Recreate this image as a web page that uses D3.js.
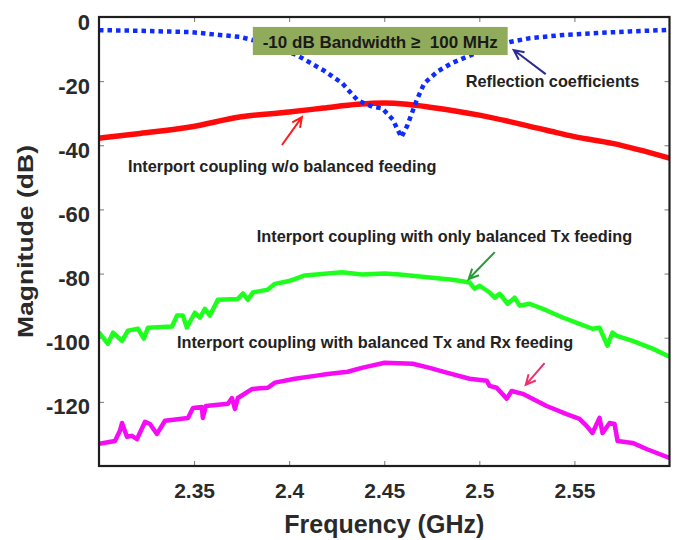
<!DOCTYPE html>
<html>
<head>
<meta charset="utf-8">
<script src="https://cdn.jsdelivr.net/npm/d3@7"></script>
<style>
body { margin: 0; background: #fff; }
text { font-family: "Liberation Sans", Arial, sans-serif; font-weight: bold; }
</style>
</head>
<body>
<div id="chart"></div>
<script>
// ticks
var xTicks = [2.35, 2.4, 2.45, 2.5, 2.55];
var yTicks = [0, -20, -40, -60, -80, -100, -120];

// [GHz, dB]
var reflection = [
    [2.300, -4.1], [2.3215, -4.3], [2.348, -4.7], [2.374, -6.2], [2.390, -8.5],
    [2.404, -11.9], [2.418, -16.6], [2.428, -20.7], [2.436, -26.0], [2.444, -28.0],
    [2.449, -28.5], [2.4545, -32.0], [2.459, -37.5], [2.462, -34.0], [2.467, -26.0],
    [2.471, -20.7], [2.478, -17.0], [2.4855, -14.4], [2.493, -12.5], [2.5055, -9.5],
    [2.516, -7.8], [2.5265, -6.6], [2.544, -5.6], [2.562, -5.0], [2.579, -4.5], [2.600, -4.0]
];

var couplingNoBalance = [
    [2.300, -37.8], [2.3215, -36.3], [2.348, -34.3], [2.374, -31.2], [2.400, -29.6],
    [2.418, -28.4], [2.436, -27.2], [2.450, -26.8], [2.462, -27.2], [2.475, -28.2],
    [2.500, -30.6], [2.5354, -35.3], [2.550, -37.3], [2.570, -39.4], [2.600, -44.0]
];

var couplingTxBalanced = [
    [2.3000, -98.3], [2.3047, -101.9], [2.3074, -98.4], [2.3121, -101.0], [2.3152, -97.8],
    [2.3205, -97.2], [2.3236, -100.3], [2.3257, -96.9], [2.3384, -96.5], [2.3410, -93.1],
    [2.3441, -93.1], [2.3462, -96.8], [2.3504, -92.2], [2.3531, -93.7], [2.3557, -91.0],
    [2.3583, -93.1], [2.3625, -88.2], [2.3730, -87.9], [2.3757, -86.2], [2.3783, -88.2],
    [2.3809, -85.9], [2.3888, -85.0], [2.3925, -83.2], [2.3993, -82.4], [2.4029, -81.7],
    [2.4082, -80.6], [2.4203, -80.0], [2.4277, -79.6], [2.4382, -80.3], [2.4502, -80.0],
    [2.4581, -80.3], [2.4739, -81.2], [2.4860, -81.9], [2.4949, -82.8], [2.4975, -84.7],
    [2.5002, -83.8], [2.5054, -85.9], [2.5081, -87.5], [2.5107, -86.3], [2.5149, -89.4],
    [2.5186, -87.5], [2.5212, -90.0], [2.5264, -89.4], [2.5354, -91.5], [2.5438, -93.7],
    [2.5527, -95.7], [2.5595, -97.2], [2.5632, -96.9], [2.5674, -102.5], [2.5700, -98.4],
    [2.5722, -99.4], [2.5806, -101.0], [2.5911, -103.4], [2.6000, -105.9]
];

var couplingTxRxBalanced = [
    [2.3000, -133.1], [2.3084, -132.2], [2.3110, -129.0], [2.3121, -126.6], [2.3147, -130.9],
    [2.3173, -130.6], [2.3200, -131.6], [2.3242, -126.2], [2.3268, -126.9], [2.3305, -130.0],
    [2.3347, -125.9], [2.3468, -125.0], [2.3494, -121.9], [2.3541, -121.6], [2.3546, -125.0],
    [2.3562, -121.3], [2.3678, -120.6], [2.3699, -118.8], [2.3715, -122.2], [2.3730, -118.8],
    [2.3804, -116.0], [2.3888, -115.6], [2.3925, -114.0], [2.4030, -112.8], [2.4135, -111.9],
    [2.4203, -111.3], [2.4308, -110.6], [2.4382, -109.4], [2.4502, -107.8], [2.4650, -108.1],
    [2.4739, -109.4], [2.4828, -110.9], [2.4949, -112.8], [2.5039, -113.4], [2.5054, -115.0],
    [2.5091, -115.6], [2.5144, -119.0], [2.5170, -116.6], [2.5228, -117.5], [2.5354, -121.3],
    [2.5459, -123.8], [2.5527, -125.3], [2.5564, -127.5], [2.5595, -129.7], [2.5632, -125.0],
    [2.5648, -129.7], [2.5685, -126.6], [2.5711, -126.9], [2.5727, -132.2], [2.5806, -132.8],
    [2.5879, -134.7], [2.6000, -137.5]
];

// notes: text, anchor [GHz, dB], arrow from / to
var notes = [
    {text: "Reflection coefficients", at: [2.4928, -21.8], from: [2.5349, -17.8], to: [2.5181, -10.3], color: "#2b2b95"},
    {text: "Interport coupling w/o balanced feeding", at: [2.3152, -48.3], from: [2.3962, -39.9], to: [2.4067, -31.2], color: "#ff1a1a"},
    {text: "Interport coupling with only balanced Tx feeding", at: [2.3830, -70.2], from: [2.5081, -73.3], to: [2.4944, -81.7], color: "#2a9a3a"},
    {text: "Interport coupling with balanced Tx and Rx feeding", at: [2.3410, -103.2], from: [2.5343, -107.9], to: [2.5244, -114.7], color: "#f0306a"}
];
var bandNote = {text: "-10 dB Bandwidth \u2265  100 MHz", x0: 2.3809, x1: 2.5149, y0: -3.1, y1: -11.85};

var margin = {top: 17, right: 6.5, bottom: 74, left: 99};
var width = 676 - margin.left - margin.right,
    height = 540 - margin.top - margin.bottom;

var svg = d3.select("#chart").append("svg")
    .attr("width", 676)
    .attr("height", 540);

var g = svg.append("g")
    .attr("transform", "translate(" + margin.left + "," + margin.top + ")");

var x = d3.scaleLinear().domain([2.3, 2.6]).range([0, width]);
var y = d3.scaleLinear().domain([-140, 0]).range([height, 0]);

g.append("clipPath").attr("id", "clip")
    .append("rect").attr("width", width).attr("height", height);

// axes, ticks point inward
var gx = g.append("g")
    .attr("transform", "translate(0," + height + ")")
    .call(d3.axisBottom(x).tickValues(xTicks).tickSize(-5).tickPadding(17).tickFormat(function(d) { return d; }));
var gy = g.append("g")
    .call(d3.axisLeft(y).tickValues(yTicks).tickSize(-5).tickPadding(9).tickFormat(function(d) { return String(d); }));
g.append("g")
    .call(d3.axisTop(x).tickValues(xTicks).tickSize(-5).tickFormat(""));
g.append("g")
    .attr("transform", "translate(" + width + ",0)")
    .call(d3.axisRight(y).tickValues(yTicks).tickSize(-5).tickFormat(""));

g.selectAll(".domain").remove();
g.selectAll(".tick line").attr("stroke", "#777").attr("stroke-width", 1);
gx.selectAll("text").attr("font-size", 21).attr("fill", "#2a2a2a")
    .style("font-family", "'Liberation Sans', Arial, sans-serif").style("font-weight", "bold");
gy.selectAll("text").attr("font-size", 22).attr("fill", "#2a2a2a").attr("dy", "0.55em")
    .style("font-family", "'Liberation Sans', Arial, sans-serif").style("font-weight", "bold");

var line = d3.line()
    .x(function(d) { return x(d[0]); })
    .y(function(d) { return y(d[1]); });
var smooth = d3.line()
    .curve(d3.curveMonotoneX)
    .x(function(d) { return x(d[0]); })
    .y(function(d) { return y(d[1]); });

var plot = g.append("g").attr("clip-path", "url(#clip)");

plot.append("path").datum(couplingNoBalance)
    .attr("d", smooth).attr("fill", "none")
    .attr("stroke", "#ff0a0a").attr("stroke-width", 5.5);

plot.append("path").datum(reflection)
    .attr("d", line).attr("fill", "none")
    .attr("stroke", "#0f2cff").attr("stroke-width", 4.5)
    .attr("stroke-dasharray", "4.5,4");

plot.append("path").datum(couplingTxBalanced)
    .attr("d", line).attr("fill", "none")
    .attr("stroke", "#1eff1e").attr("stroke-width", 4.5)
    .attr("stroke-linejoin", "round");

plot.append("path").datum(couplingTxRxBalanced)
    .attr("d", line).attr("fill", "none")
    .attr("stroke", "#f50cf5").attr("stroke-width", 4.5)
    .attr("stroke-linejoin", "round");

// frame
g.append("rect")
    .attr("width", width).attr("height", height)
    .attr("fill", "none").attr("stroke", "#1e1e1e").attr("stroke-width", 2.2);

// bandwidth box
g.append("rect")
    .attr("x", x(bandNote.x0)).attr("y", y(bandNote.y0))
    .attr("width", x(bandNote.x1) - x(bandNote.x0))
    .attr("height", y(bandNote.y1) - y(bandNote.y0))
    .attr("fill", "#90ac5a");
g.append("text")
    .attr("x", (x(bandNote.x0) + x(bandNote.x1)) / 2)
    .attr("y", y(-9.67))
    .attr("text-anchor", "middle")
    .attr("font-size", 17)
    .attr("fill", "#1a1a1a")
    .style("white-space", "pre")
    .text(bandNote.text);

// annotations
notes.forEach(function(n) {
    g.append("text")
        .attr("x", x(n.at[0])).attr("y", y(n.at[1]))
        .attr("font-size", 16.3)
        .attr("fill", "#222")
        .text(n.text);

    var x1 = x(n.from[0]), y1 = y(n.from[1]), x2 = x(n.to[0]), y2 = y(n.to[1]);
    var ang = Math.atan2(y1 - y2, x1 - x2), len = 11, spread = 0.45;
    var p = "M" + x1 + "," + y1 + "L" + x2 + "," + y2 +
        "M" + (x2 + len * Math.cos(ang + spread)) + "," + (y2 + len * Math.sin(ang + spread)) +
        "L" + x2 + "," + y2 +
        "L" + (x2 + len * Math.cos(ang - spread)) + "," + (y2 + len * Math.sin(ang - spread));
    g.append("path").attr("d", p)
        .attr("fill", "none").attr("stroke", n.color).attr("stroke-width", 2);
});

// axis titles
svg.append("text")
    .attr("x", margin.left + width / 2)
    .attr("y", 533)
    .attr("text-anchor", "middle")
    .attr("font-size", 25)
    .attr("fill", "#2a2a2a")
    .text("Frequency (GHz)");

svg.append("text")
    .attr("transform", "translate(33," + (margin.top + height / 2) + ") rotate(-90)")
    .attr("text-anchor", "middle")
    .attr("font-size", 22)
    .attr("textLength", 193)
    .attr("lengthAdjust", "spacingAndGlyphs")
    .attr("fill", "#2a2a2a")
    .text("Magnitude (dB)");
</script>
</body>
</html>
